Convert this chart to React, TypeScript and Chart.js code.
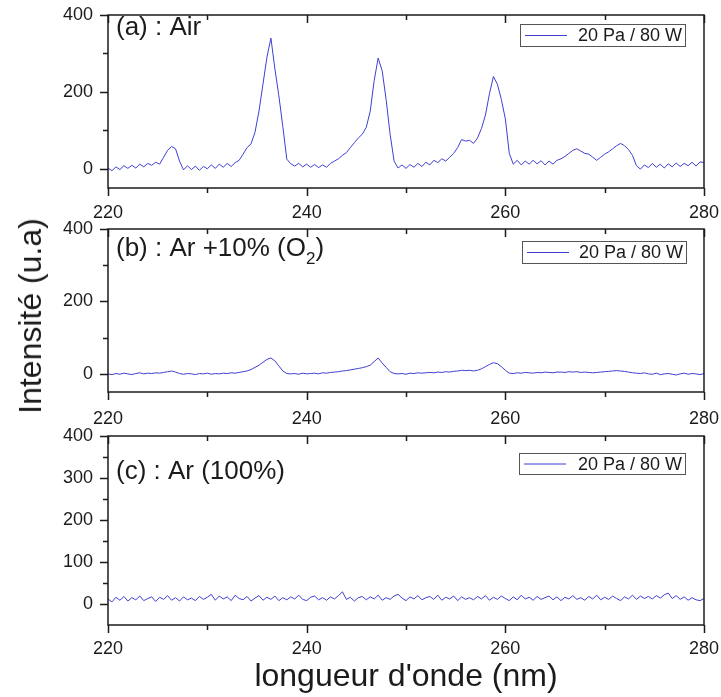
import React, { useEffect, useRef } from "react";
import { Chart, registerables } from "chart.js";

Chart.register(...registerables);

// ---------------- DATA ----------------
const wavelengths = [
  220, 220.4, 220.8, 221.2, 221.6, 222, 222.4, 222.8, 223.2, 223.6,
  224, 224.4, 224.8, 225.2, 225.6, 226, 226.4, 226.8, 227.2, 227.6,
  228, 228.4, 228.8, 229.2, 229.6, 230, 230.4, 230.8, 231.2, 231.6,
  232, 232.4, 232.8, 233.2, 233.6, 234, 234.4, 234.8, 235.2, 235.6,
  236, 236.4, 236.8, 237.2, 237.6, 238, 238.4, 238.8, 239.2, 239.6,
  240, 240.4, 240.8, 241.2, 241.6, 242, 242.4, 242.8, 243.2, 243.6,
  244, 244.4, 244.8, 245.2, 245.6, 246, 246.4, 246.8, 247.2, 247.6,
  248, 248.4, 248.8, 249.2, 249.6, 250, 250.4, 250.8, 251.2, 251.6,
  252, 252.4, 252.8, 253.2, 253.6, 254, 254.4, 254.8, 255.2, 255.6,
  256, 256.4, 256.8, 257.2, 257.6, 258, 258.4, 258.8, 259.2, 259.6,
  260, 260.4, 260.8, 261.2, 261.6, 262, 262.4, 262.8, 263.2, 263.6,
  264, 264.4, 264.8, 265.2, 265.6, 266, 266.4, 266.8, 267.2, 267.6,
  268, 268.4, 268.8, 269.2, 269.6, 270, 270.4, 270.8, 271.2, 271.6,
  272, 272.4, 272.8, 273.2, 273.6, 274, 274.4, 274.8, 275.2, 275.6,
  276, 276.4, 276.8, 277.2, 277.6, 278, 278.4, 278.8, 279.2, 279.6,
  280,
];

// (a) Air
const airIntensity = [
  2, -5, 5, -2, 8, 1, 9, 2, 12, 5,
  14, 9, 17, 12, 30, 48, 58, 52, 20, -3,
  8, -2, 7, -4, 6, 0, 10, 1, 12, 4,
  14, 6, 16, 22, 38, 55, 65, 95, 150, 220,
  290, 340, 260, 190, 110, 25, 13, 7, 14, 5,
  12, 4, 11, 3, 10, 4, 14, 20, 26, 35,
  42, 55, 68, 80, 90, 108, 150, 230, 288, 255,
  180, 90, 20, 2, 10, 1, 11, 4, 14, 6,
  17, 10, 22, 16, 26, 20, 30, 40, 55, 76,
  72, 74, 66, 80, 105, 140, 195, 240, 220, 180,
  130, 40, 12, 22, 10, 20, 12, 22, 13, 21,
  10, 20, 12, 22, 26, 32, 40, 48, 52, 46,
  40, 38, 30, 22, 30, 38, 44, 52, 60, 66,
  60, 50, 35, 8, -1, 10, 3, 14, 4, 12,
  2, 13, 5, 15, 6, 14, 8, 17, 7, 18,
  16,
];

// (b) Ar + 10% O2
const arO2Intensity = [
  0, -2, 1, -1, 2, 0, -2, 1, 3, 0,
  2, 1, 3, 2, 4, 6, 8, 5, 1, -1,
  1, 0, -2, 1, 0, 2, -1, 1, 0, 2,
  1, 3, 2, 4, 6, 8, 12, 18, 24, 32,
  40, 44, 36, 22, 8, 1, 0, 1, -1, 2,
  0, 1, 2, 0, 3, 2, 4, 5, 6, 8,
  9, 11, 13, 15, 17, 20, 24, 34, 44, 30,
  18, 6, 1, 0, 1, -1, 2, 1, 3, 2,
  3, 4, 3, 5, 4, 6, 5, 7, 8, 10,
  9, 10, 8, 10, 14, 20, 26, 31, 28, 20,
  10, 2, 1, 3, 2, 4, 3, 2, 4, 3,
  5, 4, 3, 5, 5, 4, 6, 5, 6, 4,
  5, 4, 3, 4, 5, 6, 7, 8, 9, 8,
  7, 5, 3, 2, 1, 3, 0, -1, 2, -2,
  0, 1, -1, -3, 0, 2, -1, 1, 0, -2,
  1,
];

// (c) Ar 100%
const arIntensity = [
  12, 5, 16, 9, 18, 7, 15, 10, 19, 8,
  13, 17, 6, 16, 11, 20, 9, 15, 7, 17,
  10, 14, 8, 18, 11, 16, 23, 9, 19, 12,
  17, 8, 21, 13, 10, 18, 7, 14, 20, 9,
  16, 11, 19, 8, 15, 10, 17, 12, 21, 11,
  8, 16, 19, 10, 15, 9, 17, 12, 20, 29,
  11, 16, 7, 15, 18, 10, 17, 12, 21, 9,
  15, 11, 19, 23, 14, 8, 17, 12, 20, 10,
  15, 18, 11, 21, 9, 16, 12, 19, 8, 17,
  11, 15, 10, 18, 12, 20, 9, 16, 11, 19,
  13, 8, 17, 10, 21, 12, 16, 9, 18, 11,
  15, 19, 10, 17, 8, 16, 12, 20, 11, 15,
  9, 18, 12, 21, 10, 16, 11, 19, 13, 8,
  17, 12, 21, 11, 19, 13, 18, 12, 20, 14,
  22, 26, 13, 20, 11, 17, 9, 15, 10, 8,
  13,
];

const seriesLabel = "20 Pa / 80 W";
const xTickLabels = [220, 240, 260, 280];
const xMinorTicks = [230, 250, 270];
const yTicksAB = [0, 200, 400];
const yMinorAB = [100, 300];
const yTicksC = [0, 100, 200, 300, 400];
const yMinorC = [50, 150, 250, 350];
const xTitle = "longueur d'onde (nm)";
const yTitle = "Intensité (u.a)";

const FONT = "'Liberation Sans', Arial, Helvetica, sans-serif";
const LINE_COLOR = "#3f3fd2";
const INK = "#1b1b1b";

// ---------------- LAYOUT ----------------
type Panel = {
  canvasTop: number;
  canvasHeight: number;
  areaTop: number;
  areaBottom: number;
  values: number[];
  yTicks: number[];
  yMinor: number[];
  xPad: number;
  title: string;
  titleSub: string;
  titleEnd: string;
  titleY: number;
  legend: { x: number; y: number; w: number; h: number };
};

const AREA_LEFT = 108;
const AREA_RIGHT = 704;
const WIDTH = 721;

const panels: Panel[] = [
  {
    canvasTop: 0, canvasHeight: 228, areaTop: 15, areaBottom: 188,
    values: airIntensity, yTicks: yTicksAB, yMinor: yMinorAB, xPad: 14,
    title: "(a) : Air", titleSub: "", titleEnd: "", titleY: 28,
    legend: { x: 520, y: 24, w: 165, h: 22 },
  },
  {
    canvasTop: 214, canvasHeight: 220, areaTop: 229, areaBottom: 392,
    values: arO2Intensity, yTicks: yTicksAB, yMinor: yMinorAB, xPad: 16,
    title: "(b) : Ar +10% (O", titleSub: "2", titleEnd: ")", titleY: 249,
    legend: { x: 522, y: 241, w: 164, h: 22 },
  },
  {
    canvasTop: 420, canvasHeight: 240, areaTop: 436, areaBottom: 625,
    values: arIntensity, yTicks: yTicksC, yMinor: yMinorC, xPad: 13,
    title: "(c) : Ar (100%)", titleSub: "", titleEnd: "", titleY: 472,
    legend: { x: 519, y: 453, w: 166, h: 21 },
  },
];

const framePlugin = {
  id: "frame",
  afterDatasetsDraw(chart: any, _args: any, opts: any) {
    const { ctx, chartArea } = chart;
    const { left, right, top, bottom } = chartArea;
    const xs = chart.scales.x;
    const ys = chart.scales.y;
    ctx.save();
    ctx.strokeStyle = INK;
    ctx.lineWidth = 1.5;
    ctx.strokeRect(left, top, right - left, bottom - top);

    const MAJ = 8;
    const MIN = 5;
    ctx.beginPath();
    const xAll = [...xTickLabels.map((v) => [v, MAJ]), ...xMinorTicks.map((v) => [v, MIN])];
    for (const [v, len] of xAll) {
      const px = Math.round(xs.getPixelForValue(v)) + 0.5;
      ctx.moveTo(px, bottom);
      ctx.lineTo(px, bottom + len);
      ctx.moveTo(px, top);
      ctx.lineTo(px, top + len);
    }
    const yAll = [
      ...opts.yTicks.map((v: number) => [v, MAJ]),
      ...opts.yMinor.map((v: number) => [v, MIN]),
    ];
    for (const [v, len] of yAll) {
      const py = Math.round(ys.getPixelForValue(v)) + 0.5;
      ctx.moveTo(left, py);
      ctx.lineTo(left - len, py);
    }
    ctx.stroke();

    // legend box
    const lg = opts.legend;
    const oy = -opts.canvasTop;
    ctx.lineWidth = 1;
    ctx.strokeStyle = "#555";
    ctx.strokeRect(lg.x + 0.5, lg.y + oy + 0.5, lg.w, lg.h);
    const midY = lg.y + oy + lg.h / 2 + 0.5;
    ctx.strokeStyle = chart.data.datasets[0].borderColor;
    ctx.beginPath();
    ctx.moveTo(lg.x + 5, midY);
    ctx.lineTo(lg.x + 47, midY);
    ctx.stroke();
    ctx.fillStyle = INK;
    ctx.font = `18px ${FONT}`;
    ctx.textBaseline = "middle";
    ctx.textAlign = "right";
    ctx.fillText(chart.data.datasets[0].label, lg.x + lg.w - 3, midY + 1);

    // panel annotation
    ctx.textAlign = "left";
    ctx.font = `26px ${FONT}`;
    let tx = 116;
    const ty = opts.titleY + oy;
    ctx.fillText(opts.title, tx, ty);
    tx += ctx.measureText(opts.title).width;
    if (opts.titleSub) {
      ctx.font = `17px ${FONT}`;
      ctx.fillText(opts.titleSub, tx, ty + 10);
      tx += ctx.measureText(opts.titleSub).width;
      ctx.font = `26px ${FONT}`;
      ctx.fillText(opts.titleEnd, tx, ty);
    }
    ctx.restore();
  },
};

function PanelChart({ p }: { p: Panel }) {
  const ref = useRef<HTMLCanvasElement | null>(null);
  useEffect(() => {
    if (!ref.current) return;
    const xAxisHeight = p.canvasHeight - (p.areaBottom - p.canvasTop);
    const chart = new Chart(ref.current, {
      type: "line",
      data: {
        datasets: [
          {
            label: seriesLabel,
            data: wavelengths.map((x, i) => ({ x, y: p.values[i] })),
            borderColor: LINE_COLOR,
            borderWidth: 1,
            pointRadius: 0,
            tension: 0,
            fill: false,
          },
        ],
      },
      options: {
        animation: false,
        responsive: false,
        maintainAspectRatio: false,
        devicePixelRatio: 1,
        events: [],
        layout: {
          padding: { left: 0, right: WIDTH - AREA_RIGHT, top: p.areaTop - p.canvasTop, bottom: 0 },
        },
        plugins: {
          legend: { display: false },
          tooltip: { enabled: false },
          frame: { yTicks: p.yTicks, yMinor: p.yMinor, legend: p.legend, canvasTop: p.canvasTop, title: p.title, titleSub: p.titleSub, titleEnd: p.titleEnd, titleY: p.titleY },
        } as any,
        scales: {
          x: {
            type: "linear",
            min: 220,
            max: 280,
            grid: { display: false, drawTicks: false },
            border: { display: false },
            ticks: {
              color: INK,
              font: { family: FONT, size: 18 },
              padding: p.xPad,
              maxRotation: 0,
              autoSkip: false,
            },
            afterBuildTicks: (s: any) => {
              s.ticks = xTickLabels.map((v) => ({ value: v }));
            },
            afterFit: (s: any) => {
              s.height = xAxisHeight;
              s.paddingLeft = 0;
              s.paddingRight = 0;
            },
          },
          y: {
            type: "linear",
            min: -50,
            max: 400,
            grid: { display: false, drawTicks: false },
            border: { display: false },
            ticks: {
              color: INK,
              font: { family: FONT, size: 18 },
              padding: 15,
              autoSkip: false,
            },
            afterBuildTicks: (s: any) => {
              s.ticks = p.yTicks.map((v) => ({ value: v }));
            },
            afterFit: (s: any) => {
              s.width = AREA_LEFT;
              s.paddingTop = 0;
              s.paddingBottom = 0;
            },
          },
        },
      },
      plugins: [framePlugin],
    });
    return () => chart.destroy();
  }, [p]);
  return (
    <canvas
      ref={ref}
      width={WIDTH}
      height={p.canvasHeight}
      style={{ position: "absolute", left: 0, top: p.canvasTop, width: WIDTH, height: p.canvasHeight }}
    />
  );
}

export default function App() {
  return (
    <div style={{ position: "absolute", left: 0, top: 0, width: WIDTH, height: 697, background: "#fff", overflow: "hidden", fontFamily: FONT, color: INK }}>
      {panels.map((p, i) => (
        <PanelChart key={i} p={p} />
      ))}
      <div
        style={{
          position: "absolute",
          left: 30,
          top: 316,
          transform: "translate(-50%, -50%) rotate(-90deg)",
          whiteSpace: "nowrap",
          fontSize: 32,
          lineHeight: "36px",
        }}
      >
        {yTitle}
      </div>
      <div
        style={{
          position: "absolute",
          left: 406,
          top: 675,
          transform: "translate(-50%, -50%)",
          whiteSpace: "nowrap",
          fontSize: 32,
          lineHeight: "36px",
        }}
      >
        {xTitle}
      </div>
    </div>
  );
}
